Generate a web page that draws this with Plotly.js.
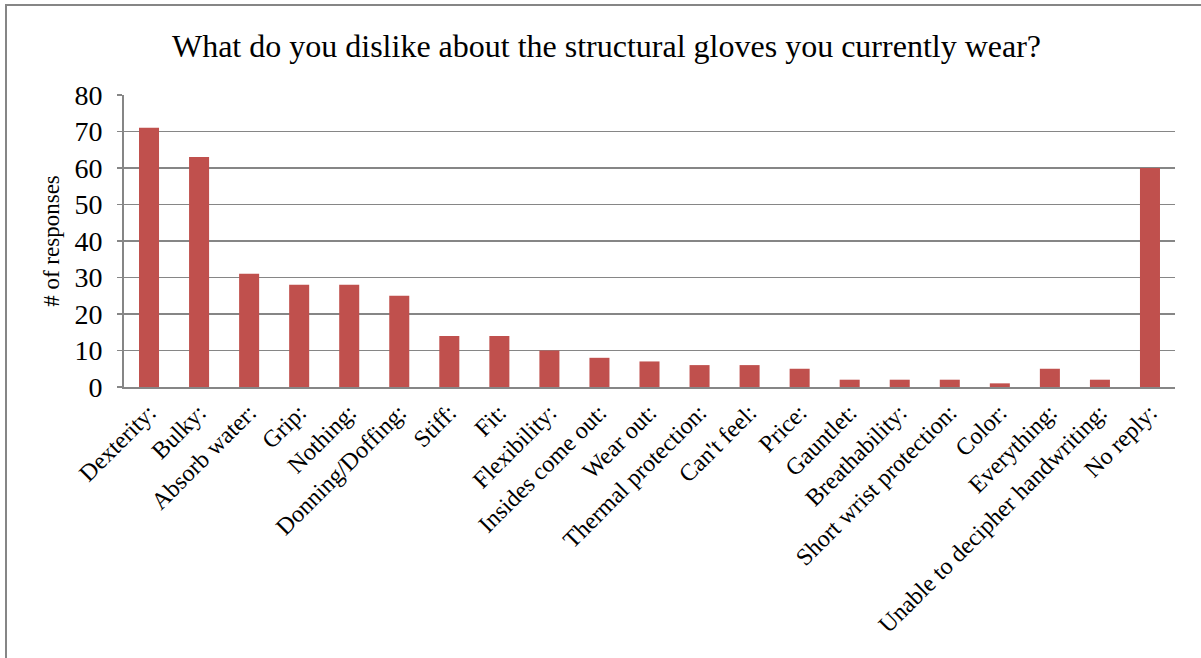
<!DOCTYPE html>
<html>
<head>
<meta charset="utf-8">
<script src="https://cdn.plot.ly/plotly-3.0.1.min.js"></script>
<style>
html,body{margin:0;padding:0;background:#fff;}
#chart{width:1201px;height:658px;}
</style>
</head>
<body>
<div id="chart"></div>
<script>
const categories = ["Dexterity:", "Bulky:", "Absorb water:", "Grip:", "Nothing:", "Donning/Doffing:", "Stiff:", "Fit:", "Flexibility:", "Insides come out:", "Wear out:", "Thermal protection:", "Can't feel:", "Price:", "Gauntlet:", "Breathability:", "Short wrist protection:", "Color:", "Everything:", "Unable to decipher handwriting:", "No reply:"];
const responses = [71, 63, 31, 28, 28, 25, 14, 14, 10, 8, 7, 6, 6, 5, 2, 2, 2, 1, 5, 2, 60];
const yTicks = [0, 10, 20, 30, 40, 50, 60, 70, 80];

const serif = "Liberation Serif, Times New Roman, serif";
const grey = "#868686";

const trace = {
  type: "bar",
  x: categories,
  y: responses,
  marker: {color: "#C0504D", line: {width: 0}},
  hoverinfo: "x+y"
};

const layout = {
  width: 1201,
  height: 658,
  margin: {l: 124, r: 26, t: 95, b: 271},
  paper_bgcolor: "#fff",
  plot_bgcolor: "#fff",
  bargap: 0.6,
  showlegend: false,
  title: {
    text: "What do you dislike about the structural gloves you currently wear?",
    font: {family: serif, size: 32, color: "#000"},
    x: 0.505, xref: "container", xanchor: "center",
    y: 0.93, yref: "container", yanchor: "middle"
  },
  xaxis: {
    type: "category",
    tickangle: -45,
    tickfont: {family: serif, size: 24, color: "#000"},
    showline: true, linecolor: grey, linewidth: 2,
    showgrid: false, ticks: "", zeroline: false,
    automargin: false
  },
  yaxis: {
    range: [0, 80],
    tickvals: yTicks,
    ticktext: yTicks.map(String),
    tickfont: {family: serif, size: 28, color: "#000"},
    showline: true, linecolor: grey, linewidth: 2,
    showgrid: true, gridcolor: grey, gridwidth: 1.5,
    ticks: "outside", ticklen: 5, tickcolor: grey, tickwidth: 1.5,
    ticklabelstandoff: 9,
    zeroline: false,
    title: {text: "# of responses", font: {family: serif, size: 23, color: "#000"}, standoff: 8},
    automargin: false
  },
  shapes: [{
    type: "rect", xref: "paper", yref: "paper",
    x0: (6 - 124) / 1051, x1: 1.2,
    y0: -1.5, y1: (387 - 5) / 292,
    line: {color: grey, width: 2}, fillcolor: "rgba(0,0,0,0)", layer: "below"
  }]
};

Plotly.newPlot("chart", [trace], layout, {displayModeBar: false, staticPlot: true});
</script>
</body>
</html>
